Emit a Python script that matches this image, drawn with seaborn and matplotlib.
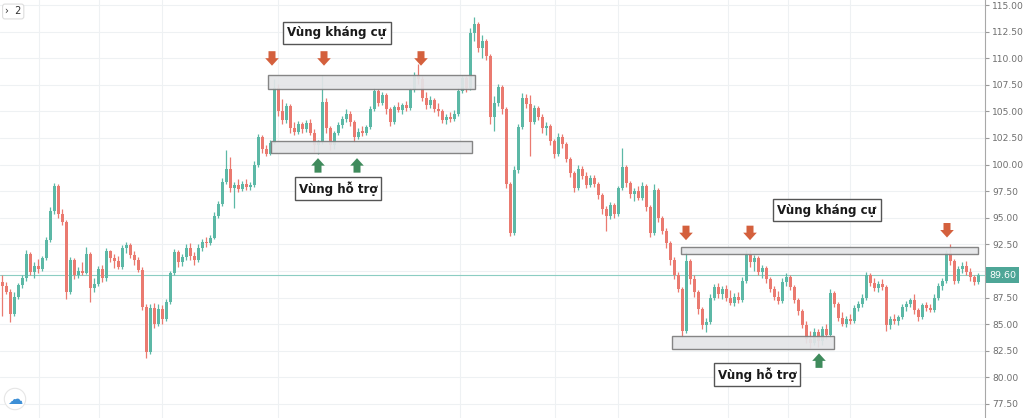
import numpy as np
import matplotlib
matplotlib.use("Agg")
import matplotlib.pyplot as plt
from matplotlib.patches import Rectangle, Polygon
import seaborn as sns

# ---------------- data ----------------
opens = [
89.0, 88.6, 88.0, 86.0, 87.6, 88.7, 89.3, 91.6, 89.9, 90.5,
90.2, 91.2, 92.9, 95.6, 98.0, 95.4, 94.6, 88.0, 91.0, 89.6,
90.0, 89.8, 91.6, 88.4, 88.8, 90.2, 89.3, 91.9, 91.2, 90.9,
90.4, 92.2, 92.4, 91.5, 91.0, 90.1, 86.6, 82.4, 86.5, 85.0,
86.4, 85.5, 87.1, 89.8, 91.8, 90.8, 91.3, 92.2, 91.4, 91.0,
92.2, 92.7, 92.6, 93.1, 95.2, 96.3, 98.4, 99.6, 97.8, 98.1,
97.7, 98.2, 97.9, 98.1, 100.0, 102.6, 101.5, 101.0, 102.0, 107.2,
105.0, 104.2, 105.5, 103.4, 103.1, 103.8, 103.3, 103.9, 103.0, 101.8,
102.1, 105.9, 103.4, 101.8, 103.0, 103.7, 104.3, 104.8, 104.0, 102.6,
103.1, 103.0, 103.5, 105.2, 106.9, 105.8, 106.5, 105.2, 104.0, 105.4,
105.1, 105.6, 105.3, 107.0, 108.4, 108.0, 106.3, 105.6, 106.1, 105.2,
105.0, 104.2, 104.5, 104.3, 104.8, 106.9, 108.1, 107.2, 112.4, 113.2,
111.0, 111.6, 110.2, 104.5, 105.8, 107.3, 105.2, 98.2, 93.6, 99.5,
103.5, 106.3, 105.7, 104.0, 105.3, 104.5, 103.4, 103.6, 102.2, 101.0,
102.6, 101.9, 100.5, 99.2, 97.8, 99.6, 98.9, 98.1, 98.7, 98.2,
97.1, 95.8, 95.2, 96.2, 95.4, 97.8, 99.8, 98.3, 97.2, 97.5,
96.9, 98.0, 96.0, 93.6, 97.6, 95.0, 93.8, 92.6, 91.0, 89.6,
88.3, 84.4, 90.9, 89.2, 88.0, 86.4, 84.9, 85.2, 87.5, 88.5,
87.8, 88.3, 87.5, 87.0, 87.6, 87.3, 89.1, 91.5, 90.8, 91.2,
89.9, 90.3, 89.2, 88.3, 87.6, 87.2, 89.0, 89.4, 88.5, 87.3,
86.2, 84.9, 83.6, 83.2, 84.3, 83.4, 84.5, 84.0, 87.9, 86.9,
85.6, 85.0, 85.5, 85.3, 86.5, 86.9, 87.5, 89.6, 88.9, 88.4,
88.8, 88.5, 84.9, 85.5, 85.3, 85.7, 86.6, 86.9, 87.3, 86.3,
85.7, 86.8, 86.5, 86.3, 87.5, 88.6, 89.1, 91.7, 90.9, 89.1,
90.2, 90.5, 89.9, 89.4, 89.0]

highs = [
89.6, 89.0, 88.3, 88.0, 88.9, 89.6, 92.0, 91.8, 90.8, 91.1,
91.4, 93.2, 96.0, 98.3, 98.2, 95.8, 94.8, 91.3, 91.2, 90.4,
90.8, 92.3, 91.8, 89.3, 90.5, 90.6, 92.2, 92.0, 91.6, 91.4,
92.4, 92.7, 92.6, 91.9, 91.3, 90.4, 86.9, 86.9, 87.0, 86.9,
86.8, 87.4, 90.0, 92.1, 92.0, 91.6, 92.5, 92.6, 91.8, 92.5,
93.0, 93.2, 93.4, 95.5, 96.6, 98.7, 101.4, 100.7, 98.4, 98.6,
98.5, 98.6, 98.4, 100.3, 102.9, 102.8, 101.8, 102.3, 108.0, 107.6,
106.2, 105.8, 105.7, 104.0, 104.1, 104.0, 104.2, 104.3, 103.3, 102.3,
108.4, 106.3, 103.6, 103.2, 104.0, 104.6, 105.2, 105.0, 104.2, 103.4,
103.6, 103.7, 105.5, 107.2, 107.1, 106.8, 106.7, 105.4, 105.6, 105.9,
105.8, 106.0, 107.2, 108.7, 109.5, 108.3, 106.8, 106.4, 106.3, 105.8,
105.2, 104.8, 104.9, 105.1, 107.2, 108.4, 108.3, 112.8, 113.9, 113.4,
112.2, 111.8, 110.4, 106.4, 107.6, 107.5, 105.4, 98.4, 99.9, 103.8,
106.7, 106.6, 106.5, 105.6, 105.5, 104.8, 104.0, 103.8, 102.4, 103.0,
102.9, 102.1, 100.7, 99.4, 100.0, 99.9, 99.3, 99.0, 99.0, 98.4,
97.3, 96.1, 96.5, 96.4, 98.0, 101.6, 100.0, 98.5, 97.8, 98.0,
98.4, 98.2, 96.2, 98.2, 97.8, 95.2, 94.0, 92.8, 91.3, 89.9,
88.5, 91.8, 91.1, 89.6, 88.2, 86.6, 85.6, 87.8, 88.8, 88.9,
88.6, 88.7, 88.2, 87.9, 88.0, 89.4, 92.0, 92.0, 91.5, 91.4,
90.6, 90.5, 89.4, 88.6, 88.1, 89.3, 89.8, 89.6, 88.7, 87.5,
86.4, 85.3, 84.4, 84.6, 84.5, 84.8, 85.0, 88.3, 88.1, 87.1,
86.1, 85.8, 86.0, 86.8, 87.2, 87.8, 89.9, 89.8, 89.3, 89.1,
89.2, 88.7, 85.8, 86.0, 85.9, 86.9, 87.2, 87.5, 87.8, 86.5,
87.0, 87.1, 86.9, 87.8, 88.9, 89.3, 92.0, 92.5, 91.1, 90.5,
90.8, 90.9, 90.3, 89.6, 89.8]

lows = [
85.8, 87.8, 85.2, 85.8, 87.4, 88.4, 89.1, 89.6, 89.3, 89.8,
90.0, 91.0, 92.7, 95.4, 95.0, 94.3, 87.4, 87.8, 89.2, 89.3,
89.6, 89.7, 87.1, 88.0, 88.6, 89.0, 89.1, 90.8, 90.3, 90.2,
90.2, 91.7, 91.2, 90.6, 89.9, 86.3, 81.8, 82.2, 84.6, 84.8,
85.0, 85.3, 86.9, 89.6, 90.4, 90.5, 91.0, 91.0, 90.6, 90.8,
91.9, 92.3, 92.4, 93.0, 95.0, 96.1, 98.2, 97.4, 95.9, 97.4,
97.5, 97.6, 97.6, 97.9, 99.8, 101.1, 100.8, 100.9, 101.9, 104.6,
103.8, 103.9, 103.0, 102.8, 102.9, 103.0, 103.1, 102.8, 101.2, 101.0,
101.9, 103.0, 101.4, 101.5, 102.8, 103.4, 104.0, 103.6, 102.1, 102.4,
102.7, 102.8, 103.3, 105.0, 105.5, 105.6, 104.8, 103.6, 103.8, 104.9,
104.8, 105.0, 105.1, 106.8, 107.6, 106.0, 105.2, 105.3, 104.9, 104.6,
103.9, 103.8, 104.0, 104.1, 104.6, 106.7, 106.8, 107.0, 111.6, 110.6,
110.0, 109.8, 103.8, 103.2, 105.5, 104.8, 97.8, 93.3, 93.4, 99.2,
103.3, 105.3, 100.8, 103.8, 104.2, 103.0, 102.8, 101.8, 100.6, 100.8,
101.6, 100.2, 98.8, 97.4, 97.6, 98.6, 97.8, 97.9, 97.9, 96.8,
95.4, 93.8, 94.9, 95.0, 95.2, 97.6, 97.9, 96.9, 96.6, 96.7,
96.7, 95.6, 93.2, 93.4, 94.6, 93.5, 92.2, 90.6, 89.2, 88.0,
83.8, 84.2, 88.8, 87.6, 86.0, 84.5, 84.3, 85.0, 87.3, 87.5,
87.4, 87.2, 86.8, 86.7, 87.0, 87.1, 88.9, 90.4, 90.0, 89.6,
89.3, 88.9, 88.0, 87.3, 86.9, 87.0, 88.6, 88.2, 87.0, 85.9,
84.6, 83.2, 82.8, 83.0, 82.9, 83.0, 83.6, 83.8, 86.6, 85.3,
84.8, 84.7, 85.0, 85.1, 86.2, 86.6, 87.3, 88.6, 88.1, 88.0,
88.2, 84.4, 84.5, 85.0, 84.9, 85.5, 86.2, 86.6, 86.0, 85.3,
85.5, 86.2, 86.1, 86.1, 87.3, 88.2, 88.9, 90.6, 88.8, 88.9,
89.8, 89.6, 89.1, 88.7, 88.8]

closes = [
88.6, 88.0, 86.0, 87.6, 88.7, 89.3, 91.6, 89.9, 90.5, 90.2,
91.2, 92.9, 95.6, 98.0, 95.4, 94.6, 88.0, 91.0, 89.6, 90.0,
89.8, 91.6, 88.4, 88.8, 90.2, 89.3, 91.9, 91.2, 90.9, 90.4,
92.2, 92.4, 91.5, 91.0, 90.1, 86.6, 82.4, 86.5, 85.0, 86.4,
85.5, 87.1, 89.8, 91.8, 90.8, 91.3, 92.2, 91.4, 91.0, 92.2,
92.7, 92.6, 93.1, 95.2, 96.3, 98.4, 99.6, 97.8, 98.1, 97.7,
98.2, 97.9, 98.1, 100.0, 102.6, 101.5, 101.0, 102.0, 107.2, 105.0,
104.2, 105.5, 103.4, 103.1, 103.8, 103.3, 103.9, 103.0, 101.8, 102.1,
105.9, 103.4, 101.8, 103.0, 103.7, 104.3, 104.8, 104.0, 102.6, 103.1,
103.0, 103.5, 105.2, 106.9, 105.8, 106.5, 105.2, 104.0, 105.4, 105.1,
105.6, 105.3, 107.0, 108.4, 108.0, 106.3, 105.6, 106.1, 105.2, 105.0,
104.2, 104.5, 104.3, 104.8, 106.9, 108.1, 107.2, 112.4, 113.2, 111.0,
111.6, 110.2, 104.5, 105.8, 107.3, 105.2, 98.2, 93.6, 99.5, 103.5,
106.3, 105.7, 104.0, 105.3, 104.5, 103.4, 103.6, 102.2, 101.0, 102.6,
101.9, 100.5, 99.2, 97.8, 99.6, 98.9, 98.1, 98.7, 98.2, 97.1,
95.8, 95.2, 96.2, 95.4, 97.8, 99.8, 98.3, 97.2, 97.5, 96.9,
98.0, 96.0, 93.6, 97.6, 95.0, 93.8, 92.6, 91.0, 89.6, 88.3,
84.4, 90.9, 89.2, 88.0, 86.4, 84.9, 85.2, 87.5, 88.5, 87.8,
88.3, 87.5, 87.0, 87.6, 87.3, 89.1, 91.5, 90.8, 91.2, 89.9,
90.3, 89.2, 88.3, 87.6, 87.2, 89.0, 89.4, 88.5, 87.3, 86.2,
84.9, 83.6, 83.2, 84.3, 83.4, 84.5, 84.0, 87.9, 86.9, 85.6,
85.0, 85.5, 85.3, 86.5, 86.9, 87.5, 89.6, 88.9, 88.4, 88.8,
88.5, 84.9, 85.5, 85.3, 85.7, 86.6, 86.9, 87.3, 86.3, 85.7,
86.8, 86.5, 86.3, 87.5, 88.6, 89.1, 91.7, 90.9, 89.1, 90.2,
90.5, 89.9, 89.4, 89.0, 89.6]

last_price = 89.60
y_ticks = [77.5, 80.0, 82.5, 85.0, 87.5, 90.0, 92.5, 95.0, 97.5, 100.0,
           102.5, 105.0, 107.5, 110.0, 112.5, 115.0]

# zones: (x_start, x_end, price_low, price_high)
zone_x0 = [66.5, 67.25, 169.75, 167.5]
zone_x1 = [118.25, 117.5, 244.0, 208.0]
zone_lo = [107.1, 101.1, 91.6, 82.67]
zone_hi = [108.42, 102.2, 92.26, 83.89]

# labels
label_texts = ["Vùng kháng cự", "Vùng hỗ trợ", "Vùng kháng cự", "Vùng hỗ trợ"]
label_x = [83.75, 84.0, 206.25, 188.75]
label_y = [112.37, 97.71, 95.73, 80.23]

# arrows
down_arrow_x = [67.5, 80.5, 104.75, 171.0, 187.0, 236.25]
down_arrow_y = [110.0, 110.0, 110.0, 93.6, 93.6, 93.85]
up_arrow_x = [79.0, 88.75, 204.25]
up_arrow_y = [99.9, 99.9, 81.55]

# vertical grid (time separators)
vgrid_x = [9.25, 24.25, 40.0, 69.0, 114.5, 138.25, 154.0, 181.5, 196.5, 212.0]

# ---------------- drawing ----------------
sns.set_theme(style="white")
plt.rcParams['font.family'] = ['DejaVu Sans']

UP = '#5cb8a6'
DOWN = '#ea7a70'

fig = plt.figure(figsize=(10.24, 4.18), dpi=100)
ax = fig.add_axes([0, 0, 985 / 1024, 1])

n = min(len(opens), len(highs), len(lows), len(closes))
o = np.array(opens[:n]); h = np.array(highs[:n])
l = np.array(lows[:n]); c = np.array(closes[:n])
x = np.arange(n)

xmin, xmax = -0.5, 245.75
ymin, ymax = 76.18, 115.47
ax.set_xlim(xmin, xmax)
ax.set_ylim(ymin, ymax)

# grid
for yt in y_ticks:
    ax.axhline(yt, color='#eef1f3', lw=0.8, zorder=0)
for xv in vgrid_x:
    ax.axvline(xv, color='#eef1f3', lw=0.8, zorder=0)

cols = np.where(c >= o, UP, DOWN)
ax.vlines(x, l, h, colors=cols, lw=0.9, zorder=2)
body_lo = np.minimum(o, c)
body_h = np.maximum(np.abs(c - o), 0.12)
ax.bar(x, body_h, bottom=body_lo, width=0.75, color=cols, edgecolor='none', zorder=3)

# last price line
ax.axhline(last_price, color='#8ccdc2', lw=0.8, zorder=1)

# zones
for x0, x1, lo, hi in zip(zone_x0, zone_x1, zone_lo, zone_hi):
    ax.add_patch(Rectangle((x0, lo), x1 - x0, hi - lo, facecolor='#e4e5e8',
                           edgecolor='#7c7c7c', lw=1.0, alpha=0.92, zorder=4))

# arrows (shape in pixels -> data)
ax_w_px = 985.0
ax_h_px = 418.0
dxp = (xmax - xmin) / ax_w_px
dyp = (ymax - ymin) / ax_h_px
shape_down = [(-3.5, 7), (3.5, 7), (3.5, 0), (6.8, 0), (0, -7.5), (-6.8, 0), (-3.5, 0)]
for ax_, ay_ in zip(down_arrow_x, down_arrow_y):
    pts = [(ax_ + px * dxp, ay_ + py * dyp) for px, py in shape_down]
    ax.add_patch(Polygon(pts, closed=True, facecolor='#d4603d', edgecolor='none', zorder=6))
for ax_, ay_ in zip(up_arrow_x, up_arrow_y):
    pts = [(ax_ + px * dxp, ay_ - py * dyp) for px, py in shape_down]
    ax.add_patch(Polygon(pts, closed=True, facecolor='#3f8b5c', edgecolor='none', zorder=6))

# labels
for t, lx, ly in zip(label_texts, label_x, label_y):
    ax.text(lx, ly, t, ha='center', va='center', fontsize=8.6, fontweight='bold',
            color='#1a1a1a', zorder=7,
            bbox=dict(boxstyle='square,pad=0.35', facecolor='white', edgecolor='#555555', lw=1.0))

# axes styling
ax.yaxis.tick_right()
ax.set_yticks(y_ticks)
# the 90.00 label sits under the last-price tag in the reference
ax.set_yticklabels(["" if abs(v - 90.0) < 1e-9 else f"{v:.2f}" for v in y_ticks])
ax.tick_params(axis='y', which='both', right=True, length=3, width=0.8, color='#9a9a9a',
               labelsize=6.6, labelcolor='#6e6e6e', pad=2)
ax.set_xticks([])
for side in ['top', 'left', 'bottom']:
    ax.spines[side].set_visible(False)
ax.spines['right'].set_color('#a8a8a8')
ax.spines['right'].set_linewidth(0.8)

# last price tag
ax.text(1.004, last_price, f"{last_price:.2f}", transform=ax.get_yaxis_transform(),
        ha='left', va='center', fontsize=6.8, color='white', zorder=8,
        bbox=dict(boxstyle='square,pad=0.35', facecolor='#4ea697', edgecolor='none'),
        clip_on=False)

# small UI elements
fig.text(5 / 1024, 1 - 11.5 / 418, "›  2", fontsize=7, color='#333333', va='center', ha='left',
         bbox=dict(boxstyle='round,pad=0.25', facecolor='white', edgecolor='#dddddd', lw=0.8))
fig.text(15 / 1024, 19 / 418, "☁", fontsize=11, color='#3d8fd6', va='center', ha='center',
         bbox=dict(boxstyle='circle,pad=0.2', facecolor='white', edgecolor='#e6e6e6', lw=0.8))

fig.savefig("out.png", dpi=100, facecolor='white')
